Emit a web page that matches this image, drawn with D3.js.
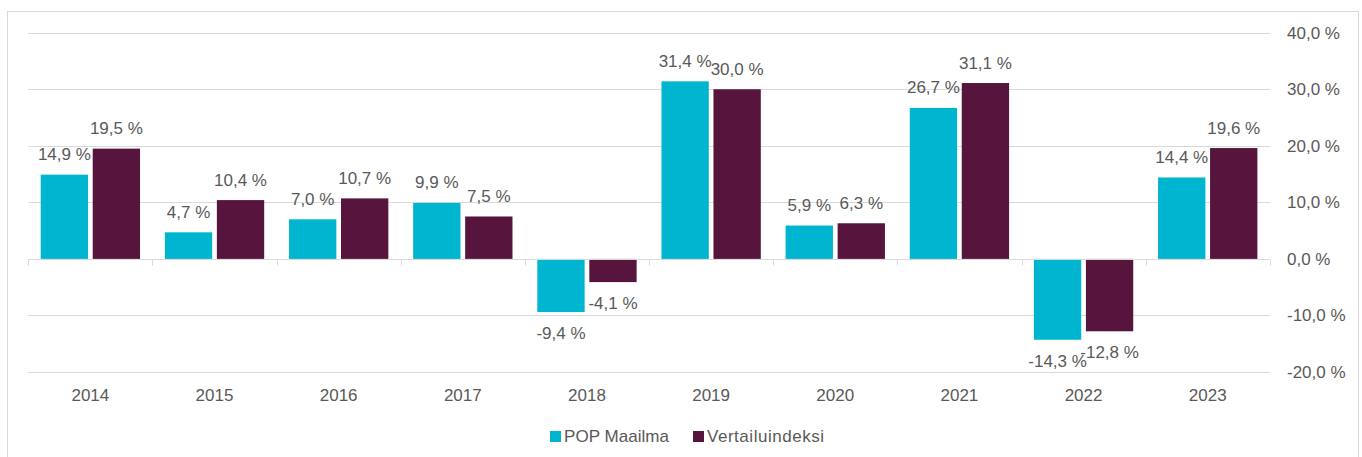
<!DOCTYPE html>
<html>
<head>
<meta charset="utf-8">
<script src="https://cdn.jsdelivr.net/npm/d3@7"></script>
<style>
  html, body { margin: 0; padding: 0; background: #fff; }
  text { font-family: "Liberation Sans", Arial, sans-serif; fill: #595959; }
</style>
</head>
<body>
<div id="chart"></div>
<script>
var years = ["2014", "2015", "2016", "2017", "2018", "2019", "2020", "2021", "2022", "2023"];
var seriesNames = ["POP Maailma", "Vertailuindeksi"];
var popMaailma = [14.9, 4.7, 7.0, 9.9, -9.4, 31.4, 5.9, 26.7, -14.3, 14.4];
var vertailuindeksi = [19.5, 10.4, 10.7, 7.5, -4.1, 30.0, 6.3, 31.1, -12.8, 19.6];
var yTicks = [-20, -10, 0, 10, 20, 30, 40];
var colors = ["#00b5cf", "#57143c"];

var width = 1362, height = 457,
	plot_left = 28.3, plot_right = 1269.8,
	plot_top = 32.7, plot_bottom = 372,
	font_size = 17;

var fmt = function (v) { return d3.format(".1f")(v).replace(".", ",").replace("−", "-") + " %"; };

var svg = d3.select("#chart").append("svg")
	.attr("width", width)
	.attr("height", height);

// outer frame (bottom edge runs off the picture)
svg.append("rect")
	.attr("x", 7.5).attr("y", 11.5)
	.attr("width", 1351).attr("height", 470)
	.attr("fill", "none")
	.attr("stroke", "#d9d9d9");

var x0 = d3.scaleBand().domain(years).range([plot_left, plot_right]).padding(0);
var x1 = d3.scaleBand().domain(seriesNames)
	.range([x0.bandwidth() * 0.1, x0.bandwidth() * 0.9])
	.paddingInner(0.09).paddingOuter(0);
var y = d3.scaleLinear().domain([-20, 40]).range([plot_bottom, plot_top]);

// gridlines
svg.append("g").selectAll("line")
	.data(yTicks.filter(function (d) { return d != 0; }))
	.enter().append("line")
	.attr("x1", plot_left).attr("x2", plot_right)
	.attr("y1", function (d) { return Math.round(y(d)) + 0.5; })
	.attr("y2", function (d) { return Math.round(y(d)) + 0.5; })
	.attr("stroke", "#d9d9d9");

// right axis labels
svg.append("g").selectAll("text")
	.data(yTicks).enter().append("text")
	.attr("x", 1287)
	.attr("y", function (d) { return y(d); })
	.attr("dy", "0.35em")
	.style("font-size", font_size + "px")
	.text(fmt);

var rows = years.map(function (yr, i) {
	return { year: yr, values: [
		{ name: seriesNames[0], value: popMaailma[i] },
		{ name: seriesNames[1], value: vertailuindeksi[i] }
	] };
});

var groups = svg.append("g").selectAll("g.year")
	.data(rows).enter().append("g")
	.attr("class", "year")
	.attr("transform", function (d) { return "translate(" + x0(d.year) + ",0)"; });

groups.selectAll("rect")
	.data(function (d) { return d.values; })
	.enter().append("rect")
	.attr("x", function (d) { return x1(d.name); })
	.attr("width", x1.bandwidth())
	.attr("y", function (d) { return y(Math.max(0, d.value)); })
	.attr("height", function (d) { return Math.abs(y(d.value) - y(0)); })
	.attr("fill", function (d, i) { return colors[i]; });

// zero axis with category ticks
var zeroY = Math.round(y(0)) + 0.5;
svg.append("line")
	.attr("x1", plot_left).attr("x2", plot_right)
	.attr("y1", zeroY).attr("y2", zeroY)
	.attr("stroke", "#d9d9d9");
svg.append("g").selectAll("line")
	.data(years.concat(["end"])).enter().append("line")
	.attr("x1", function (d, i) { return Math.round(plot_left + i * x0.step()) + 0.5; })
	.attr("x2", function (d, i) { return Math.round(plot_left + i * x0.step()) + 0.5; })
	.attr("y1", zeroY).attr("y2", zeroY + 6)
	.attr("stroke", "#d9d9d9");

// data labels
groups.selectAll("text.lbl")
	.data(function (d) { return d.values; })
	.enter().append("text")
	.attr("class", "lbl")
	.attr("text-anchor", "middle")
	.attr("x", function (d) { return x1(d.name) + x1.bandwidth() / 2; })
	.attr("y", function (d) { return d.value >= 0 ? y(d.value) - 14.5 : y(d.value) + 27; })
	.style("font-size", font_size + "px")
	.text(function (d) { return fmt(d.value); });

// category labels
svg.append("g").selectAll("text")
	.data(years).enter().append("text")
	.attr("text-anchor", "middle")
	.attr("x", function (d) { return x0(d) + x0.bandwidth() / 2; })
	.attr("y", 401)
	.style("font-size", font_size + "px")
	.text(function (d) { return d; });

// legend
var legend_x = [550, 693],
	legend_len = [105, 117];
var legend = svg.append("g").selectAll("g")
	.data(seriesNames).enter().append("g")
	.attr("transform", function (d, i) { return "translate(" + legend_x[i] + ",431)"; });
legend.append("rect")
	.attr("width", 11).attr("height", 11)
	.attr("fill", function (d, i) { return colors[i]; });
legend.append("text")
	.attr("x", 14).attr("y", 10.5)
	.attr("textLength", function (d, i) { return legend_len[i]; })
	.attr("lengthAdjust", "spacing")
	.style("font-size", font_size + "px")
	.text(function (d) { return d; });
</script>
</body>
</html>
